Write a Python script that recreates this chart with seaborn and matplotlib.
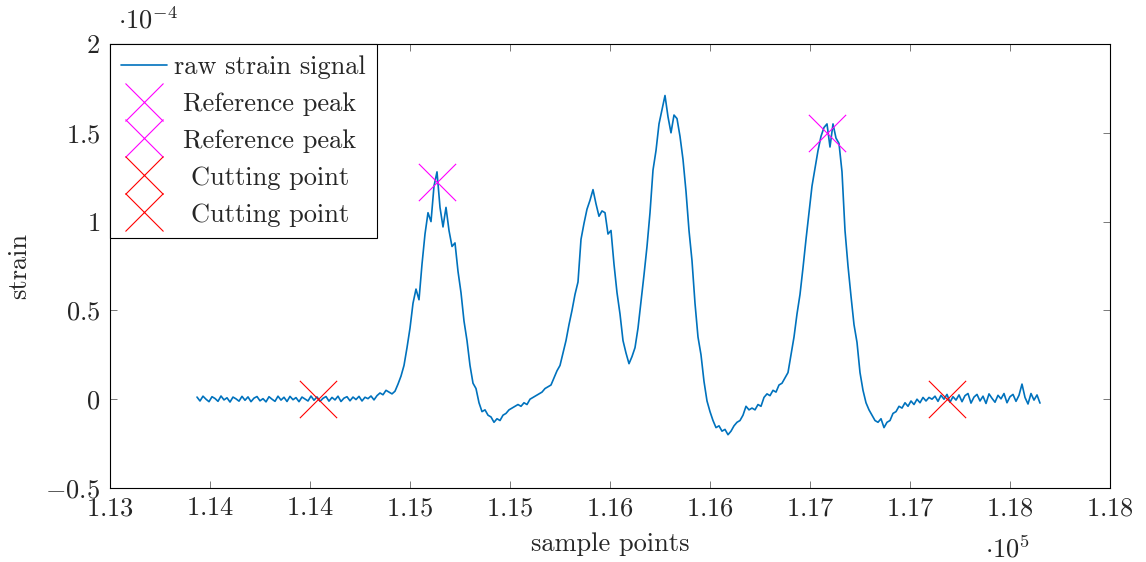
import numpy as np
import matplotlib
matplotlib.use("Agg")
import matplotlib.pyplot as plt
from matplotlib.lines import Line2D
import seaborn as sns

# ---------------- data ----------------
# raw strain signal (units of 1e-4), sampled every 15 sample points from 113435
sample_start = 113435
sample_step = 15
strain_e4 = [
    0.012, -0.010, 0.017, 0.000, -0.014, 0.014, 0.004, -0.012, 0.018, -0.004,
    0.008, -0.016, 0.012, 0.002, -0.011, 0.016, -0.006, 0.013, -0.014, 0.006,
    0.015, -0.009, 0.003, -0.015, 0.014, 0.000, -0.012, 0.017, -0.005, 0.011,
    -0.013, 0.016, -0.003, 0.009, -0.014, 0.012, 0.001, -0.010, 0.018, -0.006,
    0.013, -0.012, 0.005, 0.015, -0.011, 0.010, -0.004, 0.017, -0.013, 0.006,
    0.014, -0.009, 0.012, -0.002, 0.016, -0.010, 0.011, 0.003, 0.018, -0.004,
    0.020, 0.035, 0.025, 0.050, 0.040, 0.030, 0.045, 0.085, 0.130, 0.190,
    0.290, 0.400, 0.540, 0.620, 0.560, 0.760, 0.930, 1.050, 1.000, 1.200,
    1.280, 1.080, 0.970, 1.080, 0.950, 0.860, 0.880, 0.720, 0.600, 0.440,
    0.330, 0.190, 0.090, 0.060, -0.020, -0.070, -0.060, -0.090, -0.100, -0.130,
    -0.110, -0.120, -0.090, -0.080, -0.060, -0.050, -0.040, -0.030, -0.040, -0.020,
    -0.030, 0.000, 0.010, 0.020, 0.030, 0.040, 0.060, 0.070, 0.080, 0.120,
    0.160, 0.190, 0.260, 0.330, 0.420, 0.500, 0.590, 0.660, 0.900, 0.990,
    1.070, 1.120, 1.180, 1.100, 1.030, 1.060, 1.050, 0.930, 0.950, 0.760,
    0.600, 0.480, 0.330, 0.260, 0.200, 0.240, 0.290, 0.400, 0.550, 0.700,
    0.860, 1.050, 1.290, 1.400, 1.550, 1.630, 1.710, 1.590, 1.500, 1.600,
    1.580, 1.480, 1.350, 1.170, 0.950, 0.780, 0.540, 0.350, 0.250, 0.100,
    -0.010, -0.070, -0.120, -0.160, -0.150, -0.180, -0.170, -0.200, -0.180, -0.150,
    -0.130, -0.120, -0.090, -0.040, -0.060, -0.050, -0.060, -0.030, -0.040, 0.010,
    0.030, 0.020, 0.050, 0.040, 0.080, 0.090, 0.120, 0.150, 0.250, 0.350,
    0.480, 0.590, 0.740, 0.900, 1.050, 1.200, 1.300, 1.400, 1.480, 1.530,
    1.550, 1.420, 1.550, 1.470, 1.440, 1.280, 0.950, 0.750, 0.580, 0.420,
    0.320, 0.150, 0.050, -0.020, -0.060, -0.090, -0.120, -0.130, -0.110, -0.160,
    -0.130, -0.120, -0.080, -0.070, -0.040, -0.050, -0.020, -0.040, -0.010, -0.030,
    0.000, -0.020, 0.010, -0.010, 0.010, 0.000,
    0.017, -0.012, 0.022, 0.000, 0.027, -0.017, 0.014, -0.005, 0.024, -0.014,
    0.020, 0.032, -0.022, 0.012, 0.027, -0.010, 0.017, -0.024, 0.030, 0.005,
    -0.017, 0.022, 0.002, 0.032, -0.020, 0.014, 0.027, -0.012, 0.022, 0.085,
    0.010, -0.027, 0.032, -0.005, 0.024, -0.022,
]
sample_points = sample_start + sample_step * np.arange(len(strain_e4))

ref_peak_x = [114636, 116585]
ref_peak_y = [1.225, 1.50]
cut_x = [114040, 117185]
cut_y = [0.0, 0.0]

x_ticks = [113000, 113500, 114000, 114500, 115000, 115500,
           116000, 116500, 117000, 117500, 118000]
x_tick_labels = ["1.13", "1.14", "1.14", "1.15", "1.15", "1.16",
                 "1.16", "1.17", "1.17", "1.18", "1.18"]
y_ticks = [-0.5, 0, 0.5, 1, 1.5, 2]
y_tick_labels = ["-0.5", "0", "0.5", "1", "1.5", "2"]

legend_labels = ["raw strain signal", "Reference peak", "Reference peak",
                 "Cutting point", "Cutting point"]

# ---------------- style ----------------
sns.set_style("ticks")
plt.rcParams["font.family"] = ["cmr10", "DejaVu Sans"]
plt.rcParams["mathtext.fontset"] = "cm"
plt.rcParams["axes.unicode_minus"] = False
plt.rcParams["axes.formatter.use_mathtext"] = True

FS = 19
BLUE = "#0072BD"
MAG = "#FF00FF"
RED = "#FF0000"
MS2 = 720  # scatter size (pt^2)

fig = plt.figure(figsize=(11.46, 5.62), dpi=100)
ax = fig.add_axes([110 / 1146, 74 / 562, 1000 / 1146, 444 / 562])

sns.lineplot(x=sample_points, y=strain_e4, ax=ax, color=BLUE,
             linewidth=1.2, estimator=None, sort=False, legend=False)
for i in range(2):
    sns.scatterplot(x=[ref_peak_x[i]], y=[ref_peak_y[i]], ax=ax, marker="x",
                    s=MS2, color=MAG, linewidth=0.8, legend=False, zorder=3)
for i in range(2):
    sns.scatterplot(x=[cut_x[i]], y=[cut_y[i]], ax=ax, marker="x",
                    s=MS2, color=RED, linewidth=0.8, legend=False, zorder=3)

ax.set_xlim(113000, 118000)
ax.set_ylim(-0.5, 2)
ax.set_xticks(x_ticks)
ax.set_xticklabels(["$" + t + "$" for t in x_tick_labels])
ax.set_yticks(y_ticks)
ax.set_yticklabels(["$" + t + "$" for t in y_tick_labels])
ax.tick_params(direction="in", top=True, right=True, length=5, width=0.5,
               color="#444444", labelsize=FS)
ax.tick_params(axis="x", pad=6)
ax.tick_params(axis="y", pad=7)
for s in ax.spines.values():
    s.set_visible(True)
    s.set_linewidth(0.8)
    s.set_color("black")

ax.set_xlabel("sample points", fontsize=FS, labelpad=9)
ax.set_ylabel("strain", fontsize=FS, labelpad=10)

fig.text(118 / 1146, 1 - 20 / 562, r"$\cdot 10^{-4}$", fontsize=FS,
         ha="left", va="center")
fig.text(1008 / 1146, 1 - 549 / 562, r"$\cdot 10^{5}$", fontsize=FS,
         ha="center", va="center")

msz = np.sqrt(MS2)
handles = [
    Line2D([], [], color=BLUE, linewidth=1.2),
    Line2D([], [], color=MAG, marker="x", markersize=msz,
           markeredgewidth=0.8, linestyle="None"),
    Line2D([], [], color=MAG, marker="x", markersize=msz,
           markeredgewidth=0.8, linestyle="None"),
    Line2D([], [], color=RED, marker="x", markersize=msz,
           markeredgewidth=0.8, linestyle="None"),
    Line2D([], [], color=RED, marker="x", markersize=msz,
           markeredgewidth=0.8, linestyle="None"),
]
leg = ax.legend(handles, legend_labels, loc="upper left", borderaxespad=0,
                fancybox=False, edgecolor="black", framealpha=1, fontsize=FS,
                handlelength=1.75, handletextpad=0.25, labelspacing=0.5,
                borderpad=0.42)
leg.get_frame().set_linewidth(0.8)

# centre the legend texts within their column (as pgfplots does)
fig.canvas.draw()
renderer = fig.canvas.get_renderer()
texts = leg.get_texts()
widths = [t.get_window_extent(renderer).width for t in texts]
wmax = max(widths)
for t, w in zip(texts, widths):
    t.set_position(((wmax - w) / 2.0, 0))

fig.savefig("out.png", dpi=100)
